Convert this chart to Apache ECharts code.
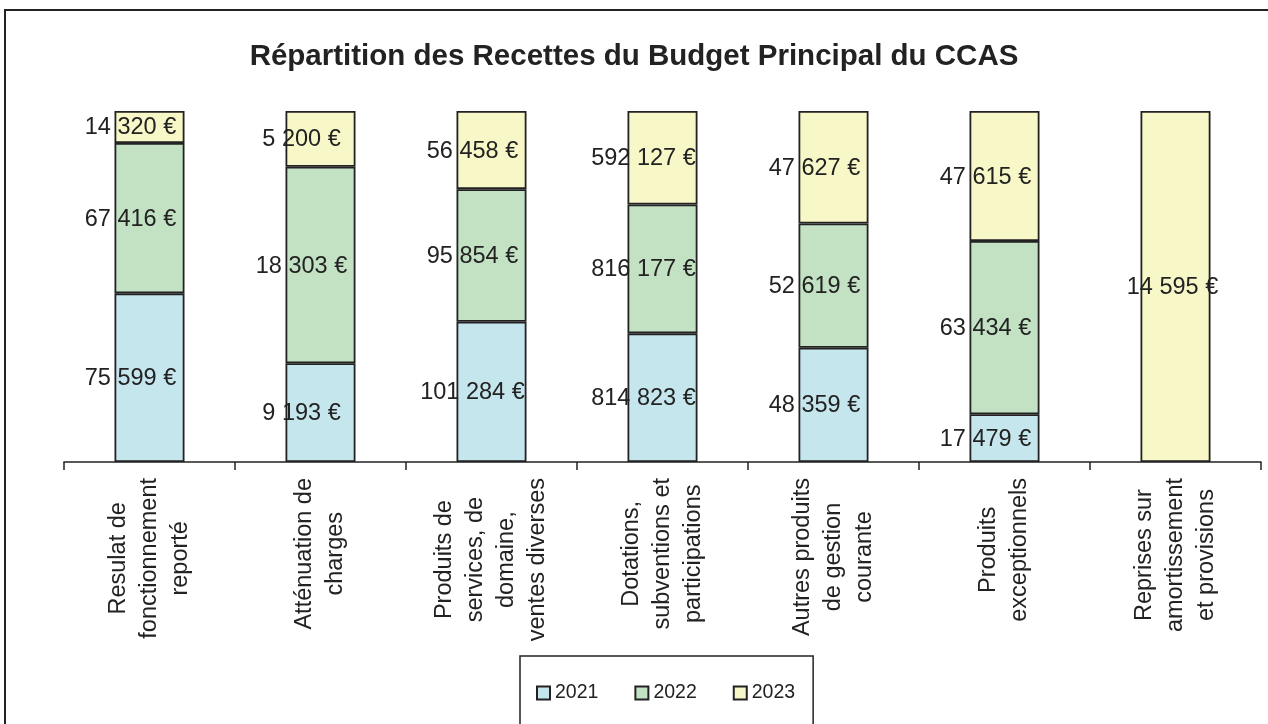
<!DOCTYPE html>
<html>
<head>
<meta charset="utf-8">
<script src="https://cdn.jsdelivr.net/npm/echarts@6/dist/echarts.min.js"></script>
<style>
  html, body { margin: 0; padding: 0; background: #fff; }
  #main { width: 1268px; height: 724px; }
</style>
</head>
<body>
<div id="main"></div>
<script>
// catégories (axe X)
const categories = [
    'Resulat de\nfonctionnement\nreporté',
    'Atténuation de\ncharges',
    'Produits de\nservices, de\ndomaine,\nventes diverses',
    'Dotations,\nsubventions et\nparticipations',
    'Autres produits\nde gestion\ncourante',
    'Produits\nexceptionnels',
    'Reprises sur\namortissement\net provisions'
];

// montants par année (en €)
const years = ['2021', '2022', '2023'];
const values2021 = [75599, 9193, 101284, 814823, 48359, 17479, 0];
const values2022 = [67416, 18303, 95854, 816177, 52619, 63434, 0];
const values2023 = [14320, 5200, 56458, 592127, 47627, 47615, 14595];

document.addEventListener('DOMContentLoaded', function () {
    var myChart = echarts.init(document.getElementById('main'));

    const FONT = '"Liberation Sans", Arial, sans-serif';
    const colors = ['#c6e6ee', '#c3e1c3', '#f7f7c8'];
    const allValues = [values2021, values2022, values2023];

    // total par catégorie -> barres empilées à 100 %
    const totals = categories.map(function (c, i) {
        return values2021[i] + values2022[i] + values2023[i];
    });

    function formatEuro(v) {
        return String(v).replace(/\B(?=(\d{3})+(?!\d))/g, ' ') + ' €';
    }

    const series = years.map(function (year, s) {
        return {
            name: year,
            type: 'bar',
            stack: 'total',
            barWidth: 70,
            itemStyle: { color: colors[s], borderColor: '#222', borderWidth: 1.8 },
            label: {
                show: true,
                position: 'inside',
                offset: [-19, 1],
                color: '#222',
                fontFamily: FONT,
                fontSize: 23.5,
                formatter: function (p) { return formatEuro(allValues[s][p.dataIndex]); }
            },
            data: allValues[s].map(function (v, i) {
                if (!v) return null;
                const item = { value: v / totals[i] * 100 };
                if (i === categories.length - 1) item.label = { offset: [-3, 1] };
                return item;
            })
        };
    });

    var option = {
        animation: false,
        title: {
            text: 'Répartition des Recettes du Budget Principal du CCAS',
            left: 'center',
            top: 37,
            textStyle: { fontFamily: FONT, fontSize: 29.5, fontWeight: 'bold', color: '#222' }
        },
        legend: {
            data: years,
            icon: 'rect',
            left: 520,
            top: 656,
            itemWidth: 13,
            itemHeight: 13,
            itemGap: 36,
            padding: [27, 18, 30, 16],
            borderColor: '#222',
            borderWidth: 1.5,
            textStyle: { fontFamily: FONT, fontSize: 19.5, color: '#222' }
        },
        grid: { left: 64, right: 7, top: 111, bottom: 262 },
        xAxis: {
            type: 'category',
            data: categories,
            axisLine: { lineStyle: { color: '#222', width: 1.5 } },
            axisTick: { show: true, length: 8, lineStyle: { color: '#222', width: 1.5 } },
            axisLabel: {
                interval: 0,
                rotate: 90,
                margin: 16,
                formatter: function (v) {
                    return v.split('\n').map(function (l) { return '{c|' + l + '}'; }).join('\n');
                },
                rich: {
                    c: { align: 'center', fontFamily: FONT, fontSize: 23.5, lineHeight: 31, color: '#222' }
                }
            }
        },
        yAxis: {
            type: 'value',
            min: 0,
            max: 100,
            show: false
        },
        graphic: [{
            type: 'rect',
            shape: { x: 5, y: 10, width: 1400, height: 900 },
            style: { fill: 'none', stroke: '#222', lineWidth: 2 },
            silent: true
        }],
        series: series
    };

    myChart.setOption(option);

    window.addEventListener('resize', function () {
        myChart.resize();
    });
});
</script>
</body>
</html>
